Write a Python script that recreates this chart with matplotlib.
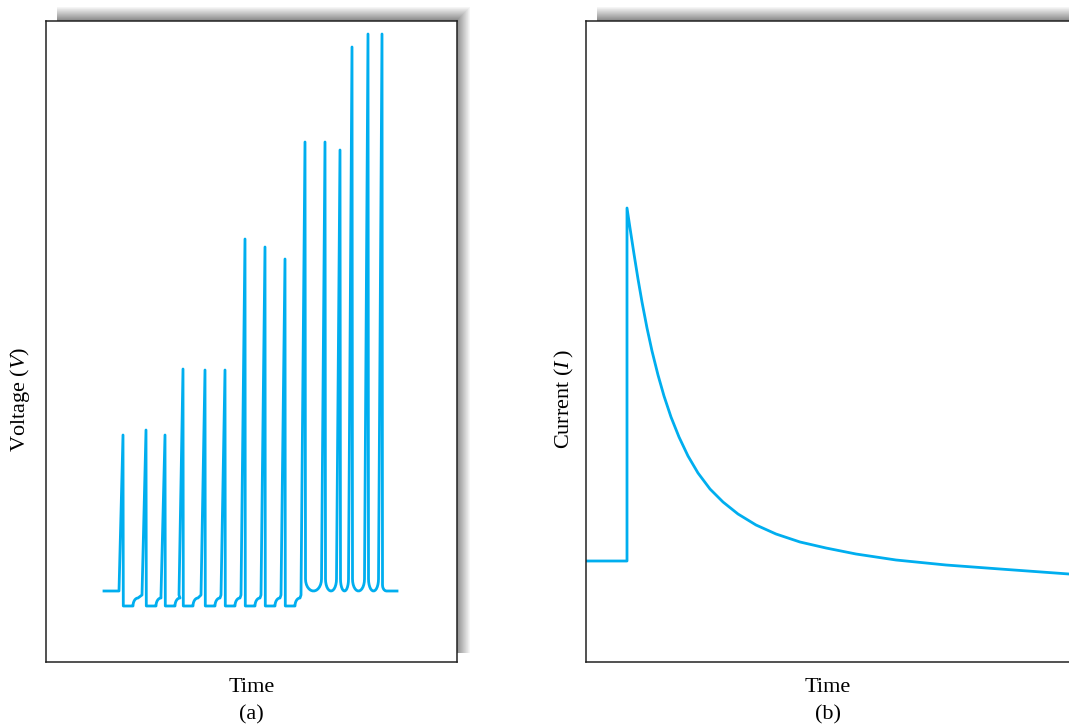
import numpy as np
import matplotlib.pyplot as plt

W, H = 1069, 728

# (a) voltage pulses (time, voltage in arbitrary units)
peak_t = [77, 100, 119, 137, 159, 179, 199, 219, 239, 259, 279, 294, 306, 322, 336]
peak_v = [227, 232, 227, 293, 292, 292, 423, 415, 403, 520, 520, 512, 615, 628, 628]
rest_v = 71
low_v = 56
start_t, end_t = 58, 351
n_reset = 9  # these pulses drop below the rest level afterwards

# (b) current after the step
cur_t = [0, 41, 41, 44, 48, 52, 56, 61, 66, 72, 78, 85, 93, 102, 112, 124,
         137, 152, 170, 190, 214, 240, 270, 310, 360, 414, 483]
cur_v = [101, 101, 454, 434, 408, 383, 360, 334, 311, 287, 266, 245, 225, 206, 189, 173,
         160, 148, 137, 128, 120, 114, 108, 102, 97, 93, 88]

blue = '#00aeef'

plt.rcParams['font.family'] = 'Liberation Serif'
plt.rcParams['mathtext.fontset'] = 'custom'
plt.rcParams['mathtext.rm'] = 'Liberation Serif'
plt.rcParams['mathtext.it'] = 'Liberation Serif:italic'


def fr(x0, y0, x1, y1):
    return [x0 / W, 1 - y1 / H, (x1 - x0) / W, (y1 - y0) / H]


def shadow(fig, x0, y0, x1, y1, depth=14):
    w, h = x1 - x0, y1 - y0
    rows, cols = np.mgrid[0:h, 0:w]
    d = np.minimum(rows, w - 1 - cols)
    g = 0.96 - 0.46 * np.clip(d / depth, 0, 1)
    sa = fig.add_axes(fr(x0, y0, x1, y1), zorder=0)
    sa.imshow(g, cmap='gray', vmin=0, vmax=1, aspect='auto', interpolation='nearest')
    sa.axis('off')


def pulse_train():
    t = [start_t, peak_t[0] - 4]
    v = [rest_v, rest_v]
    for i in range(len(peak_t)):
        p = peak_t[i]
        t.append(p)
        v.append(peak_v[i])
        last = i == len(peak_t) - 1
        if i < n_reset:
            # drop below rest, wait, then recover
            t += [p + 0.3, p + 10]
            v += [low_v, low_v]
            th = np.linspace(np.pi, np.pi / 2, 8)
            t += list(p + 10 + 5 + 5 * np.cos(th))
            v += list(low_v + 8 * np.sin(th))
            t.append(peak_t[i + 1] - 4)
            v.append(low_v + 11)
        elif last:
            t.append(p + 0.5)
            v.append(rest_v + 6)
            th = np.linspace(np.pi, 1.5 * np.pi, 6)
            t += list(p + 0.5 + 4 + 4 * np.cos(th))
            v += list(rest_v + 6 + 6 * np.sin(th))
            t.append(end_t)
            v.append(rest_v)
        else:
            # rounded trough at rest level
            n = peak_t[i + 1]
            a = (n - 3.5 - (p + 0.5)) / 2
            t.append(p + 0.5)
            v.append(rest_v + 12)
            th = np.linspace(np.pi, 2 * np.pi, 14)
            t += list(p + 0.5 + a + a * np.cos(th))
            v += list(rest_v + 12 + 12 * np.sin(th))
    return t, v


fig = plt.figure(figsize=(W / 100, H / 100), dpi=100)

shadow(fig, 57, 7, 470, 653)
shadow(fig, 597, 7, 1090, 653)

axa = fig.add_axes(fr(46, 21, 457, 662), zorder=2)
axb = fig.add_axes(fr(586, 21, 1070, 662), zorder=2)

vt, vv = pulse_train()
axa.plot(vt, vv, color=blue, lw=2.0, solid_joinstyle='round')
axa.set_xlim(0, 411)
axa.set_ylim(0, 641)

axb.plot(cur_t, cur_v, color=blue, lw=2.0, solid_joinstyle='round')
axb.set_xlim(0, 484)
axb.set_ylim(0, 641)

for ax, lab, sub, lx in [(axa, r'Voltage ($V$)', '(a)', -0.034),
                         (axb, r'Current ($I\,$)', '(b)', -0.021)]:
    ax.set_xticks([])
    ax.set_yticks([])
    for s in ax.spines.values():
        s.set_linewidth(1.1)
        s.set_color('#222222')
    ax.set_ylabel(lab, fontsize=16)
    ax.yaxis.set_label_coords(lx, 0.41)
    ax.set_xlabel('Time', fontsize=16)
    ax.xaxis.set_label_coords(0.5, -0.025)
    ax.text(0.5, -0.083, sub, transform=ax.transAxes, ha='center', va='center', fontsize=16)

fig.savefig('out.png', dpi=100)
